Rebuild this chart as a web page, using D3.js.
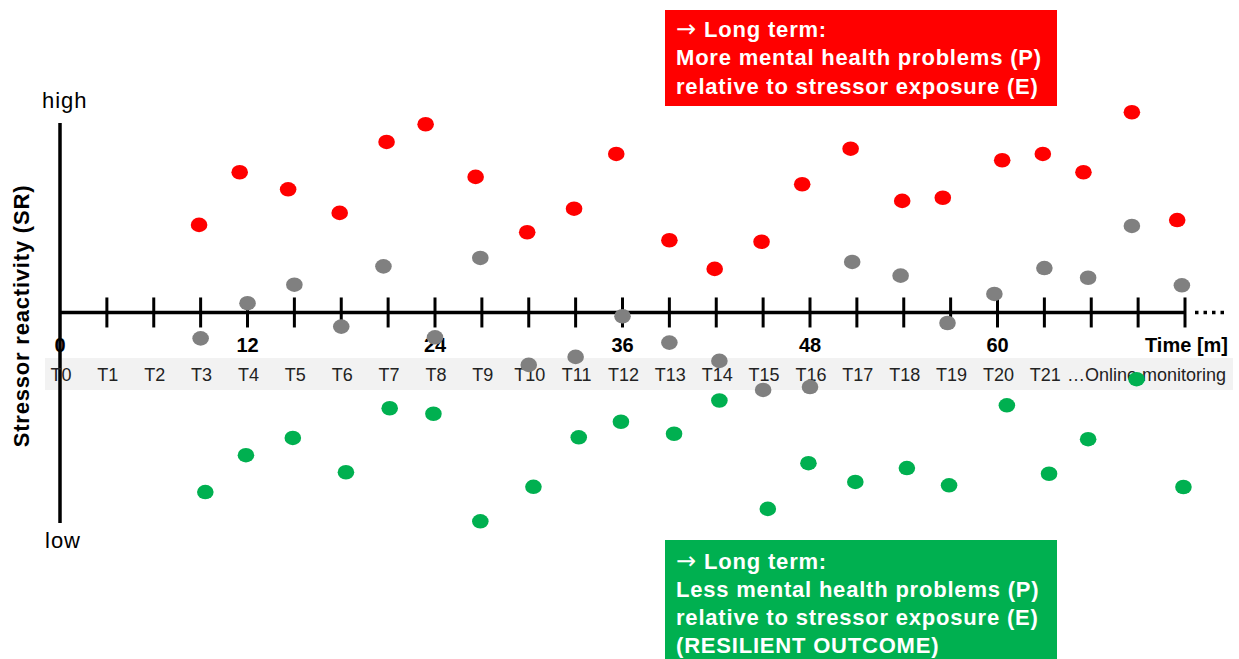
<!DOCTYPE html>
<html>
<head>
<meta charset="utf-8">
<script src="https://cdn.jsdelivr.net/npm/d3@7"></script>
<style>
  html, body { margin: 0; padding: 0; background: #fff; }
  svg { display: block; font-family: "Liberation Sans", Arial, sans-serif; }
</style>
</head>
<body>
<svg id="chart" width="1239" height="659"></svg>
<script>
// ---------- data ----------
// x = time in months, y = stressor reactivity (0 = axis, + = high, - = low)
const highMonths = [8.9, 11.5, 14.6, 17.9, 20.9, 23.4, 26.6, 29.9, 32.9, 35.6, 39.0, 41.9, 44.9, 47.5, 50.6, 53.9, 56.5, 60.3, 62.9, 65.5, 68.6, 71.5];
const highValues = [41.6, 66.6, 58.5, 47.3, 81.0, 89.4, 64.4, 38.1, 49.3, 75.3, 34.3, 20.7, 33.6, 60.9, 77.8, 53.0, 54.5, 72.3, 75.3, 66.6, 95.1, 43.9];

const midMonths = [9.0, 12.0, 15.0, 18.0, 20.7, 24.0, 26.9, 30.0, 33.0, 36.0, 39.0, 42.2, 45.0, 48.0, 50.7, 53.8, 56.8, 59.8, 63.0, 65.8, 68.6, 71.8];
const midValues = [-12.3, 4.4, 13.2, -6.7, 21.9, -11.8, 25.9, -24.9, -21.1, -1.8, -14.3, -23.0, -36.8, -35.4, 24.0, 17.5, -5.0, 8.8, 21.1, 16.5, 41.1, 12.9];

const lowMonths = [9.3, 11.9, 14.9, 18.3, 21.1, 23.9, 26.9, 30.3, 33.2, 35.9, 39.3, 42.2, 45.3, 47.9, 50.9, 54.2, 56.9, 60.6, 63.3, 65.8, 68.9, 71.9];
const lowValues = [-85.3, -67.8, -59.6, -75.9, -45.5, -48.1, -99.2, -82.8, -59.3, -51.9, -57.6, -41.8, -93.3, -71.6, -80.5, -73.9, -82.1, -44.1, -76.6, -60.2, -31.7, -82.9];

const monthLabels = [0, 12, 24, 36, 48, 60];
const timepointLabels = ["T0","T1","T2","T3","T4","T5","T6","T7","T8","T9","T10","T11","T12","T13","T14","T15","T16","T17","T18","T19","T20","T21"];
const monthsPerTimepoint = 3;
const maxMonth = 72;

const redBoxLines = ["Long term:", "More mental health problems (P)", "relative to stressor exposure (E)"];
const greenBoxLines = ["Long term:", "Less mental health problems (P)", "relative to stressor exposure (E)", "(RESILIENT OUTCOME)"];

// ---------- setup ----------
const svg = d3.select("#chart");
const x = d3.scaleLinear().domain([0, maxMonth]).range([60, 1185]);
const y = d3.scaleLinear().domain([-100, 90]).range([523, 123]);
const y0 = y(0);

const RED = "#FF0000", GRAY = "#808080", GREEN = "#00B050";

// gray band for time points
svg.append("rect").attr("x", 45).attr("y", 358).attr("width", 1188).attr("height", 32).attr("fill", "#F2F2F2");

// vertical axis
svg.append("line").attr("x1", x(0)).attr("x2", x(0)).attr("y1", 123).attr("y2", 523)
  .attr("stroke", "#000").attr("stroke-width", 3.5);

// horizontal axis
svg.append("line").attr("x1", x(0)).attr("x2", x(maxMonth)).attr("y1", y0).attr("y2", y0)
  .attr("stroke", "#000").attr("stroke-width", 3.5);
svg.append("line").attr("x1", x(maxMonth) + 10).attr("x2", x(maxMonth) + 44).attr("y1", y0).attr("y2", y0)
  .attr("stroke", "#000").attr("stroke-width", 3.5).attr("stroke-dasharray", "3.5,5");

const tickMonths = d3.range(monthsPerTimepoint, maxMonth + 1, monthsPerTimepoint);
svg.append("g").selectAll("line").data(tickMonths).join("line")
  .attr("x1", d => x(d)).attr("x2", d => x(d))
  .attr("y1", y0 - 15).attr("y2", y0 + 15)
  .attr("stroke", "#000").attr("stroke-width", 3);

// month labels
svg.append("g").selectAll("text").data(monthLabels).join("text")
  .attr("x", d => x(d)).attr("y", 352)
  .attr("text-anchor", "middle").attr("font-weight", "bold").attr("font-size", 20)
  .text(d => d);
svg.append("text").attr("x", 1228).attr("y", 352).attr("text-anchor", "end")
  .attr("font-weight", "bold").attr("font-size", 20).text("Time [m]");

// time point labels
svg.append("g").selectAll("text").data(timepointLabels).join("text")
  .attr("x", (d, i) => x(i * monthsPerTimepoint) + 1).attr("y", 381)
  .attr("text-anchor", "middle").attr("font-size", 18).attr("fill", "#222")
  .text(d => d);
svg.append("text").attr("x", 1067).attr("y", 381).attr("font-size", 18).attr("fill", "#222")
  .text("\u2026Online monitoring");

// axis end labels
svg.append("text").attr("x", 42).attr("y", 108).attr("font-size", 22).attr("letter-spacing", 1).text("high");
svg.append("text").attr("x", 45).attr("y", 548).attr("font-size", 22).attr("letter-spacing", 1).text("low");

// y axis title
svg.append("text").attr("transform", "translate(29,316) rotate(-90)")
  .attr("text-anchor", "middle").attr("font-weight", "bold").attr("font-size", 22)
  .attr("letter-spacing", 0.8).text("Stressor reactivity (SR)");

// ---------- dots ----------
function drawSeries(months, values, color) {
  svg.append("g").selectAll("ellipse").data(months.map((m, i) => [m, values[i]])).join("ellipse")
    .attr("cx", d => x(d[0])).attr("cy", d => y(d[1]))
    .attr("rx", 8.3).attr("ry", 7.3).attr("fill", color);
}
drawSeries(highMonths, highValues, RED);
drawSeries(midMonths, midValues, GRAY);
drawSeries(lowMonths, lowValues, GREEN);

// ---------- boxes ----------
function drawBox(top, height, color, lines, firstBaseline) {
  svg.append("rect").attr("x", 665).attr("y", top).attr("width", 392).attr("height", height).attr("fill", color);
  const t = svg.append("text").attr("fill", "#fff").attr("font-size", 22).attr("font-weight", "bold").attr("letter-spacing", 0.8);
  lines.forEach((ln, i) => {
    const ts = t.append("tspan").attr("x", 676).attr("y", firstBaseline + i * 28.3);
    if (i === 0) {
      ts.append("tspan").attr("font-family", "DejaVu Sans").attr("font-weight", "normal")
        .attr("font-size", 24).attr("letter-spacing", 0).text("\u2192");
      ts.append("tspan").attr("dx", 8).text(ln);
    } else {
      ts.text(ln);
    }
  });
}
drawBox(10, 96, RED, redBoxLines, 37);
drawBox(540, 130, GREEN, greenBoxLines, 568.5);
</script>
</body>
</html>
